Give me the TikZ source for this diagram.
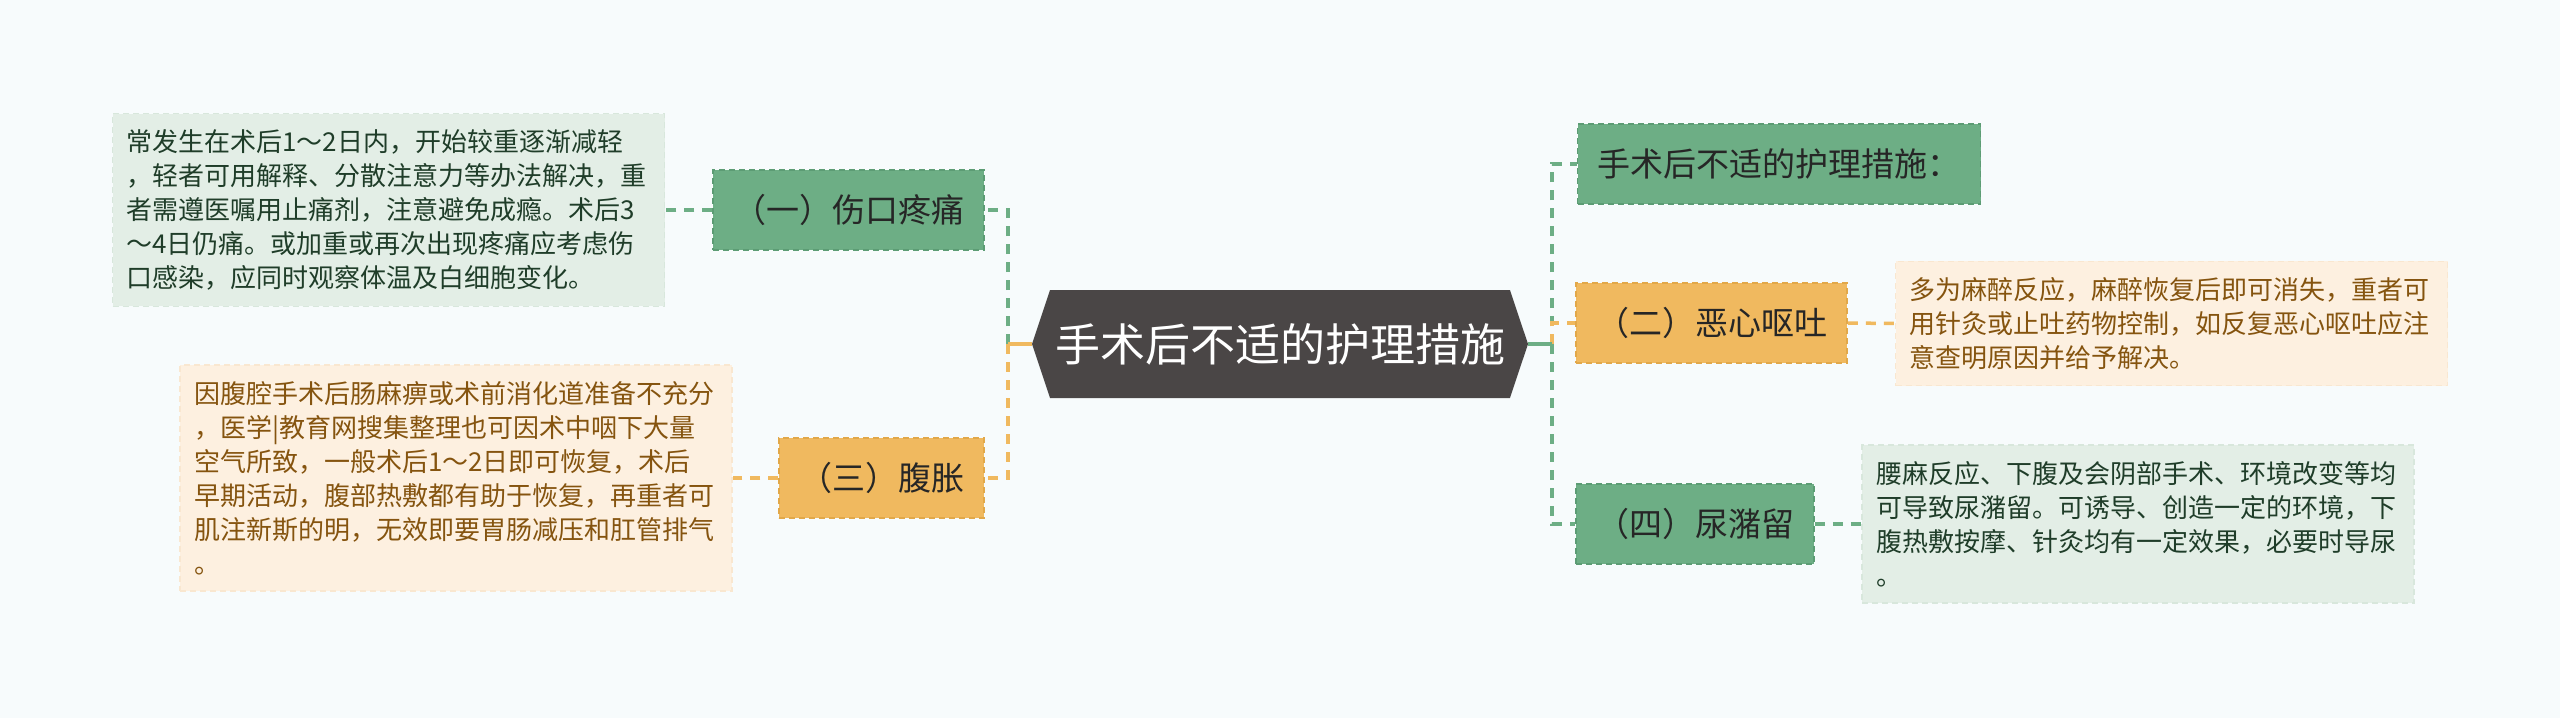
\documentclass[tikz,border=0pt]{standalone}
\usepackage{fontspec}
\setmainfont{Noto Sans CJK SC}
\usetikzlibrary{shapes.symbols}
\definecolor{bgcol}{HTML}{F7FBFC}
\definecolor{gfill}{HTML}{6DAE85}
\definecolor{gdraw}{HTML}{5C9C74}
\definecolor{ofill}{HTML}{F0B95F}
\definecolor{odraw}{HTML}{E2A849}
\definecolor{rootcol}{HTML}{4A4646}
\definecolor{gpale}{HTML}{E3EEE6}
\definecolor{gpaledraw}{HTML}{D8E7DC}
\definecolor{opale}{HTML}{FDF0E0}
\definecolor{opaledraw}{HTML}{F9E7D0}
\definecolor{gtext}{HTML}{1F3D29}
\definecolor{otext}{HTML}{85540F}
\tikzset{
  topic/.style={rectangle, draw, dash pattern=on 6pt off 4pt, line width=1.5pt, inner xsep=20pt, minimum height=80pt, font=\fontsize{33}{40}\selectfont, text=black!85},
  gtopic/.style={topic, fill=gfill, draw=gdraw},
  otopic/.style={topic, fill=ofill, draw=odraw},
  note/.style={rectangle, draw, dash pattern=on 6pt off 4pt, line width=1.5pt, inner xsep=14pt, inner ysep=16pt, text width=524pt, align=left, font=\fontsize{26}{34}\selectfont},
  gnote/.style={note, fill=gpale, draw=gpaledraw, text=gtext},
  onote/.style={note, fill=opale, draw=opaledraw, text=otext},
  gline/.style={gfill, line width=3.5pt, dash pattern=on 10pt off 8pt},
  oline/.style={ofill, line width=3.5pt, dash pattern=on 10pt off 8pt},
}
\begin{document}
\begin{tikzpicture}[x=1pt, y=-1pt]
\fill[bgcol] (0,0) rectangle (2560,718);
\useasboundingbox (0,0) rectangle (2560,718);
\node[signal, signal to=west and east, signal pointer angle=143, fill=rootcol, text=white, minimum width=496pt, minimum height=108pt, font=\fontsize{45}{54}\selectfont] (root) at (1280,344) {手术后不适的护理措施};
% left side
\node[gtopic] (pain) at (848.5,210) {（一）伤口疼痛};
\node[otopic] (bloat) at (881.5,478) {（三）腹胀};
\node[gnote] (painnote) at (388.5,210) {常发生在术后1～2日内，开始较重逐渐减轻\\，轻者可用解释、分散注意力等办法解决，重\\者需遵医嘱用止痛剂，注意避免成瘾。术后3\\～4日仍痛。或加重或再次出现疼痛应考虑伤\\口感染，应同时观察体温及白细胞变化。};
\node[onote] (bloatnote) at (456,478) {因腹腔手术后肠麻痹或术前消化道准备不充分\\，医学|教育网搜集整理也可因术中咽下大量\\空气所致，一般术后1～2日即可恢复，术后\\早期活动，腹部热敷都有助于恢复，再重者可\\肌注新斯的明，无效即要胃肠减压和肛管排气\\。};
% right side
\node[gtopic] (head) at (1779,164) {手术后不适的护理措施：};
\node[otopic] (nausea) at (1711.5,323) {（二）恶心呕吐};
\node[gtopic] (urine) at (1695,524) {（四）尿潴留};
\node[onote] (nauseanote) at (2171.5,323.5) {多为麻醉反应，麻醉恢复后即可消失，重者可\\用针灸或止吐药物控制，如反复恶心呕吐应注\\意查明原因并给予解决。};
\node[gnote] (urinenote) at (2138,524) {腰麻反应、下腹及会阴部手术、环境改变等均\\可导致尿潴留。可诱导、创造一定的环境，下\\腹热敷按摩、针灸均有一定效果，必要时导尿\\。};
% connectors
\coordinate (lj) at ([xshift=-24pt]root.west);
\coordinate (rj) at ([xshift=24pt]root.east);
\draw[gline] (lj) |- (pain.east);
\draw[oline] (lj) |- (bloat.east);
\draw[ofill, line width=3.5pt] (root.west) -- (lj);
\draw[gline] (rj) |- (head.west);
\draw[gline] (rj) |- (urine.west);
\draw[oline] (rj) |- (nausea.west);
\draw[gfill, line width=3.5pt] (root.east) -- (rj);
\draw[gline] (pain.west) -- (painnote.east);
\draw[oline] (bloat.west) -- (bloatnote.east);
\draw[oline] (nausea.east) -- (nauseanote.west);
\draw[gline] (urine.east) -- (urinenote.west);
\end{tikzpicture}
\end{document}
